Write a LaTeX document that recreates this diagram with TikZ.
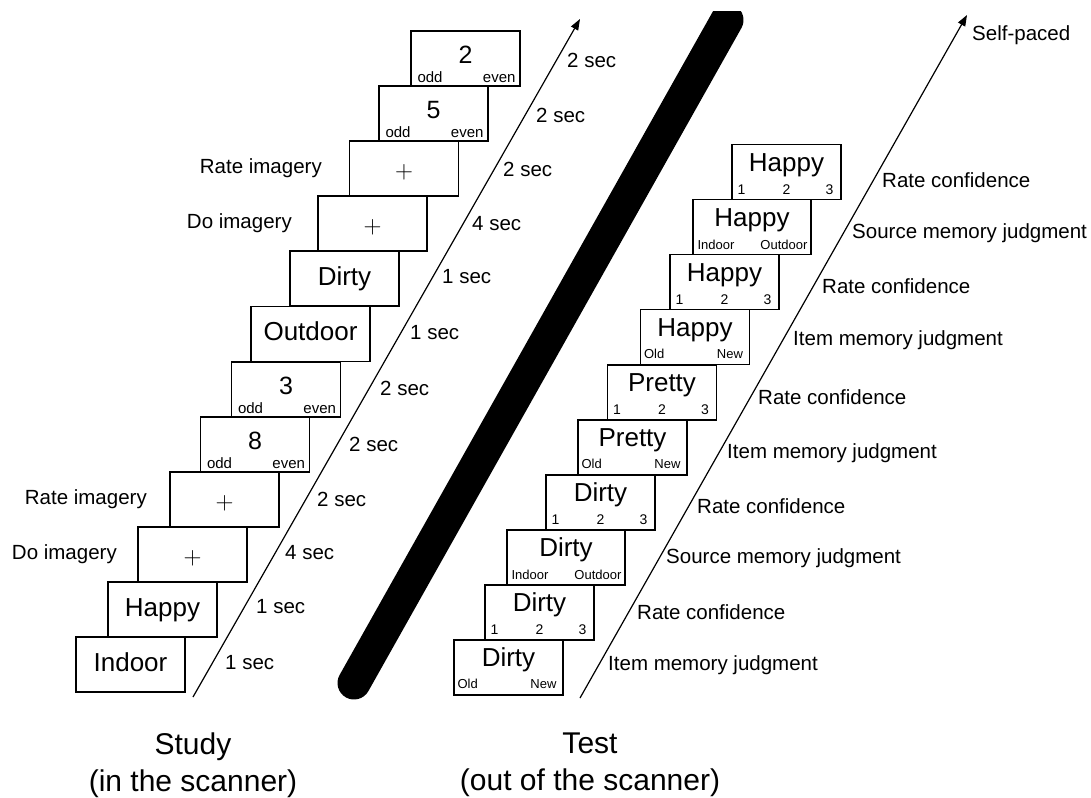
\documentclass[tikz,border=0pt]{standalone}
\usepackage[no-math]{fontspec}
\setmainfont{Liberation Sans}
\usepackage{tikz}
\usetikzlibrary{positioning,arrows.meta,calc}

\tikzset{
  card/.style={draw, line width=1.3pt, fill=white, minimum width=109pt, minimum height=55pt,
    inner sep=0pt, font=\fontsize{26}{30}\selectfont, text height=19pt, text depth=5.5pt},
  widecard/.style={minimum width=118pt},
  oddtxt/.style={inner sep=0pt, font=\fontsize{15}{15}\selectfont},
  resptxt/.style={inner sep=0pt, font=\fontsize{14}{14}\selectfont},
  resptxtsm/.style={inner sep=0pt, font=\fontsize{13}{13}\selectfont},
  numcard/.style={card, font=\fontsize{25}{30}\selectfont, text height=18pt, text depth=8pt,
    label={[oddtxt, anchor=base west, xshift=7pt, yshift=4pt]south west:odd},
    label={[oddtxt, anchor=base east, xshift=-5pt, yshift=4pt]south east:even}},
  crosscard/.style={card, font=\fontsize{25}{25}\selectfont, text height=21pt, text depth=2pt},
  testcard/.style={card, text height=18pt, text depth=20pt},
  confcard/.style={testcard,
    label={[resptxt, anchor=base west, xshift=6pt, yshift=6pt]south west:1},
    label={[resptxt, anchor=base, yshift=6pt]south:2},
    label={[resptxt, anchor=base east, xshift=-8pt, yshift=6pt]south east:3}},
  itemcard/.style={testcard,
    label={[resptxtsm, anchor=base west, xshift=4pt, yshift=7pt]south west:Old},
    label={[resptxtsm, anchor=base east, xshift=-7pt, yshift=7pt]south east:New}},
  sourcecard/.style={testcard, widecard,
    label={[resptxtsm, anchor=base west, xshift=5pt, yshift=6pt]south west:Indoor},
    label={[resptxtsm, anchor=base east, xshift=-4pt, yshift=6pt]south east:Outdoor}},
  steplbl/.style={inner sep=0pt, font=\fontsize{20.5}{24}\selectfont},
  timeline/.style={line width=1.2pt, -{Triangle[length=11pt,width=8pt]}},
  divider/.style={line width=33pt, line cap=round},
  caption/.style={align=center, inner sep=0pt, font=\fontsize{30}{37}\selectfont},
}

\begin{document}
\begin{tikzpicture}[x=1pt, y=-1pt]
\useasboundingbox (0,0) rectangle (1091,797);

% study trials (in the scanner)
\node[card] (s1) at (130.5,664.5) {Indoor};
\node[card] (s2) at (162.5,609.5) {Happy};
\node[crosscard] (s3) at (192.5,554.5) {$+$};
\node[crosscard] (s4) at (224.5,499.5) {$+$};
\node[numcard] (s5) at (255,444.5) {8};
\node[numcard] (s6) at (286,389.5) {3};
\node[card, minimum width=119pt] (s7) at (310.5,334) {Outdoor};
\node[card] (s8) at (344.5,278.5) {Dirty};
\node[crosscard] (s9) at (372.5,223.5) {$+$};
\node[crosscard] (s10) at (404,168.5) {$+$};
\node[numcard] (s11) at (433.5,113.5) {5};
\node[numcard] (s12) at (465.5,58.5) {2};

\node[steplbl, anchor=east] (do1) at (117,554.5) {Do imagery};
\node[steplbl, anchor=east] (rate1) at (147,499.5) {Rate imagery};
\node[steplbl, anchor=east] (do2) at (292,223.5) {Do imagery};
\node[steplbl, anchor=east] (rate2) at (322,168.5) {Rate imagery};

\coordinate (sa0) at (193,697);
\coordinate (sa1) at (580,19);
\draw[timeline] (sa0) -- (sa1);

\node[steplbl, anchor=west] (st1) at (225,663) {1 sec};
\node[steplbl, anchor=west] (st2) at (256,607) {1 sec};
\node[steplbl, anchor=west] (st3) at (285,553) {4 sec};
\node[steplbl, anchor=west] (st4) at (317,499) {2 sec};
\node[steplbl, anchor=west] (st5) at (349,444) {2 sec};
\node[steplbl, anchor=west] (st6) at (380,388) {2 sec};
\node[steplbl, anchor=west] (st7) at (410,333) {1 sec};
\node[steplbl, anchor=west] (st8) at (442,277) {1 sec};
\node[steplbl, anchor=west] (st9) at (472,224) {4 sec};
\node[steplbl, anchor=west] (st10) at (503,169) {2 sec};
\node[steplbl, anchor=west] (st11) at (536,115) {2 sec};
\node[steplbl, anchor=west] (st12) at (567,60) {2 sec};

% divider
\coordinate (b0) at (354,683);
\coordinate (b1) at (727,20);
\begin{scope}
\clip (0,12) rectangle (1091,797);
\draw[divider] (b0) -- (b1);
\end{scope}

% test trials (out of the scanner)
\node[itemcard] (t1) at (508.5,667.5) {Dirty};
\node[confcard] (t2) at (539.5,612.5) {Dirty};
\node[sourcecard] (t3) at (566,557.5) {Dirty};
\node[confcard] (t4) at (600.5,502.5) {Dirty};
\node[itemcard] (t5) at (632.5,447.5) {Pretty};
\node[confcard] (t6) at (662,392.5) {Pretty};
\node[itemcard] (t7) at (695,337) {Happy};
\node[confcard] (t8) at (724.5,282) {Happy};
\node[sourcecard] (t9) at (752,227) {Happy};
\node[confcard] (t10) at (786.5,172) {Happy};

\coordinate (ta0) at (580,698);
\coordinate (ta1) at (967,15);
\draw[timeline] (ta0) -- (ta1);

\node[steplbl, anchor=west] (tt1) at (608,665) {Item memory judgment};
\node[steplbl, anchor=west] (tt2) at (637,612) {Rate confidence};
\node[steplbl, anchor=west] (tt3) at (666,558) {Source memory judgment};
\node[steplbl, anchor=west] (tt4) at (697,506) {Rate confidence};
\node[steplbl, anchor=west] (tt5) at (727,453) {Item memory judgment};
\node[steplbl, anchor=west] (tt6) at (758,397) {Rate confidence};
\node[steplbl, anchor=west] (tt7) at (793,340) {Item memory judgment};
\node[steplbl, anchor=west] (tt8) at (822,286) {Rate confidence};
\node[steplbl, anchor=west] (tt9) at (852,233) {Source memory judgment};
\node[steplbl, anchor=west] (tt10) at (882,180) {Rate confidence};
\node[steplbl, anchor=west] (tt11) at (972,35) {Self-paced};

\node[caption] (study) at (193,765) {Study\\(in the scanner)};
\node[caption] (test) at (590,765) {Test\\(out of the scanner)};
\end{tikzpicture}
\end{document}
